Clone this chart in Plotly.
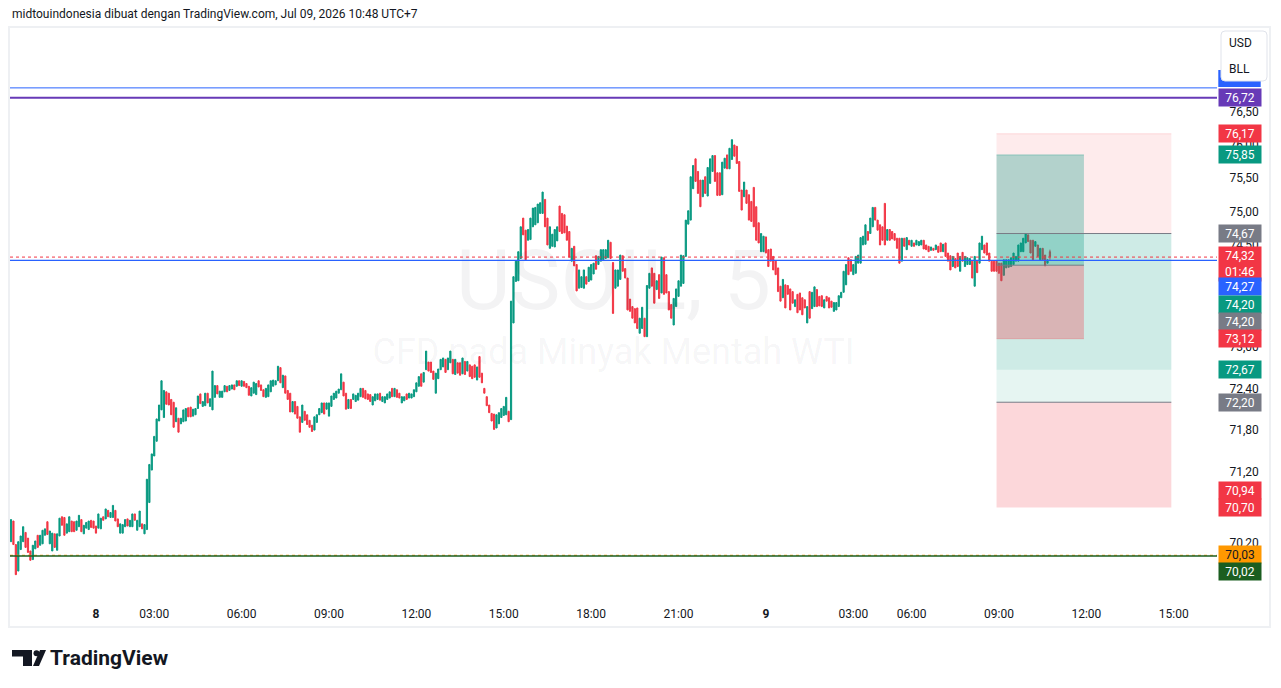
import math
import plotly.graph_objects as go

# ---------------- data (USOIL 5-minute bars, bar index 0..428) ----------------
highs = [
    70.53,70.51,70.18,70.22,70.30,70.43,70.35,70.27,70.09,70.17,
    70.23,70.31,70.31,70.38,70.40,70.50,70.37,70.34,70.33,70.33,
    70.55,70.57,70.56,70.47,70.57,70.51,70.50,70.51,70.59,70.53,
    70.45,70.49,70.51,70.52,70.51,70.44,70.61,70.55,70.57,70.68,
    70.66,70.63,70.73,70.66,70.54,70.47,70.46,70.53,70.54,70.52,
    70.61,70.61,70.52,70.65,70.47,70.46,71.10,71.31,71.46,71.71,
    71.96,72.16,72.51,72.37,72.35,72.33,72.24,72.20,72.12,71.97,
    71.97,72.09,72.11,72.12,72.13,72.10,72.11,72.29,72.32,72.21,
    72.33,72.33,72.25,72.65,72.44,72.44,72.36,72.36,72.44,72.43,
    72.44,72.45,72.45,72.51,72.51,72.51,72.50,72.47,72.43,72.41,
    72.49,72.47,72.51,72.45,72.38,72.40,72.45,72.51,72.52,72.51,
    72.72,72.70,72.59,72.58,72.37,72.33,72.21,72.21,72.14,71.99,
    72.16,72.07,72.02,71.94,71.87,71.99,72.02,72.11,72.19,72.19,
    72.19,72.19,72.29,72.33,72.36,72.39,72.61,72.49,72.33,72.24,
    72.24,72.32,72.30,72.33,72.40,72.40,72.37,72.32,72.31,72.28,
    72.32,72.32,72.33,72.28,72.28,72.32,72.35,72.40,72.40,72.38,
    72.33,72.28,72.28,72.32,72.33,72.32,72.38,72.48,72.57,72.61,
    72.63,72.94,72.78,72.78,72.65,72.62,72.68,72.82,72.84,72.82,
    72.84,72.94,72.82,72.82,72.77,72.77,72.84,72.79,72.79,72.74,
    72.72,72.74,72.71,72.86,72.62,72.40,72.28,72.16,72.04,72.03,
    72.02,72.05,72.11,72.14,72.27,72.07,73.67,74.03,74.26,74.40,
    74.77,74.90,74.72,74.73,74.90,75.05,75.06,75.11,75.13,75.29,
    75.18,74.90,74.77,74.66,74.73,74.77,75.08,74.97,74.95,74.78,
    74.70,74.45,74.48,74.21,74.13,74.03,74.13,74.03,74.17,74.21,
    74.23,74.34,74.33,74.43,74.43,74.43,74.57,74.54,74.24,74.13,
    74.13,74.35,74.34,74.15,74.01,73.70,73.59,73.56,73.57,73.42,
    73.58,73.42,73.90,74.08,74.16,74.08,73.97,74.06,74.32,74.31,
    74.06,73.81,73.62,73.71,73.85,73.97,74.35,74.34,74.87,75.01,
    75.52,75.69,75.79,75.60,75.47,75.47,75.52,75.66,75.79,75.84,
    75.84,75.58,75.58,75.74,75.80,75.85,75.95,76.08,76.00,75.98,
    75.75,75.32,75.44,75.32,75.25,75.15,75.36,75.07,74.83,74.67,
    74.63,74.62,74.43,74.44,74.33,74.26,74.16,73.89,73.99,73.91,
    73.90,73.85,73.81,73.69,73.77,73.79,73.72,73.69,73.59,73.81,
    73.80,73.88,73.84,73.74,73.75,73.69,73.74,73.72,73.67,73.65,
    73.65,73.75,73.80,74.11,74.21,74.31,74.28,74.21,74.33,74.35,
    74.61,74.63,74.80,74.70,74.90,75.06,75.06,74.87,74.80,74.77,
    75.12,74.73,74.73,74.70,74.67,74.60,74.60,74.60,74.60,74.61,
    74.57,74.57,74.53,74.57,74.55,74.57,74.57,74.50,74.48,74.47,
    74.45,74.50,74.48,74.53,74.51,74.53,74.38,74.34,74.33,74.30,
    74.38,74.33,74.39,74.33,74.31,74.30,74.26,74.33,74.26,74.53,
    74.63,74.50,74.53,74.38,74.26,74.26,74.26,74.23,74.23,74.28,
    74.28,74.28,74.31,74.38,74.33,74.50,74.53,74.60,74.67,74.65,
    74.57,74.57,74.55,74.50,74.45,74.45,74.35,74.28,74.43,
]
lows = [
    70.22,70.18,69.76,69.81,70.11,70.22,70.14,70.07,69.96,69.97,
    70.12,70.14,70.17,70.19,70.31,70.32,70.19,70.09,70.14,70.10,
    70.30,70.45,70.31,70.34,70.36,70.36,70.36,70.38,70.43,70.36,
    70.33,70.41,70.39,70.42,70.41,70.34,70.41,70.40,70.52,70.54,
    70.57,70.56,70.56,70.51,70.43,70.34,70.34,70.43,70.44,70.43,
    70.43,70.52,70.38,70.43,70.40,70.33,70.39,70.77,71.23,71.43,
    71.64,71.93,72.09,71.98,72.17,72.16,72.02,71.84,71.92,71.77,
    71.89,71.92,71.93,71.99,71.99,72.00,72.02,72.11,72.18,72.14,
    72.15,72.19,72.14,72.09,72.27,72.32,72.27,72.27,72.35,72.35,
    72.37,72.39,72.38,72.43,72.44,72.43,72.43,72.41,72.30,72.29,
    72.33,72.31,72.42,72.37,72.28,72.27,72.28,72.35,72.43,72.45,
    72.51,72.48,72.41,72.33,72.24,72.06,72.06,72.03,71.97,71.77,
    71.91,71.94,71.88,71.84,71.78,71.80,71.91,72.02,72.05,72.03,
    72.10,72.00,72.14,72.24,72.26,72.33,72.38,72.29,72.10,72.11,
    72.11,72.24,72.21,72.23,72.28,72.27,72.25,72.24,72.21,72.16,
    72.22,72.24,72.23,72.21,72.19,72.24,72.26,72.28,72.28,72.27,
    72.26,72.19,72.22,72.24,72.26,72.26,72.28,72.35,72.43,72.43,
    72.49,72.67,72.65,72.63,72.53,72.33,72.54,72.67,72.71,72.63,
    72.67,72.77,72.61,72.60,72.62,72.59,72.61,72.60,72.65,72.57,
    72.54,72.56,72.52,72.56,72.48,72.33,72.15,72.05,71.93,71.81,
    71.83,71.89,71.98,72.01,72.02,71.92,71.95,73.35,73.96,73.97,
    74.30,74.65,74.28,74.57,74.58,74.77,74.80,74.83,74.97,74.97,
    74.77,74.50,74.45,74.48,74.47,74.56,74.70,74.67,74.68,74.57,
    74.32,74.26,74.19,73.82,73.86,73.87,73.86,73.92,73.96,73.98,
    74.07,74.14,74.21,74.26,74.28,74.30,74.31,74.30,73.49,73.86,
    73.89,73.99,74.11,74.01,73.54,73.52,73.42,73.35,73.27,73.20,
    73.27,73.15,73.15,73.86,73.89,73.64,73.84,73.71,73.79,73.77,
    73.79,73.54,73.42,73.32,73.59,73.74,73.89,73.93,74.33,74.81,
    74.87,75.34,75.45,75.27,75.07,75.22,75.27,75.23,75.42,75.60,
    75.45,75.24,75.24,75.25,75.65,75.64,75.64,75.78,75.83,75.72,
    75.30,75.02,75.22,75.12,74.87,74.85,74.77,74.57,74.53,74.40,
    74.40,74.38,74.18,74.26,74.13,74.06,73.81,73.67,73.72,73.57,
    73.77,73.54,73.64,73.59,73.50,73.54,73.47,73.57,73.35,73.42,
    73.56,73.59,73.59,73.60,73.59,73.57,73.67,73.57,73.58,73.52,
    73.54,73.59,73.72,73.80,73.91,74.06,74.11,74.06,74.08,74.23,
    74.23,74.50,74.51,74.57,74.67,74.77,74.87,74.72,74.50,74.57,
    74.50,74.57,74.57,74.59,74.57,74.45,74.23,74.26,74.48,74.43,
    74.50,74.48,74.48,74.50,74.49,74.50,74.44,74.43,74.40,74.42,
    74.42,74.43,74.39,74.40,74.40,74.33,74.26,74.13,74.18,74.16,
    74.18,74.11,74.26,74.18,74.21,74.21,74.01,73.89,74.09,74.23,
    74.43,74.38,74.35,74.26,74.11,74.11,74.11,74.08,73.97,74.05,
    74.16,74.17,74.18,74.21,74.26,74.26,74.40,74.40,74.53,74.55,
    74.38,74.28,74.48,74.33,74.28,74.28,74.19,74.23,74.28,
]
opens = [
    70.22,70.51,70.18,69.81,70.11,70.22,70.35,70.27,70.09,69.97,
    70.12,70.31,70.17,70.19,70.31,70.50,70.19,70.09,70.33,70.10,
    70.30,70.57,70.56,70.34,70.36,70.51,70.50,70.38,70.43,70.53,
    70.33,70.41,70.39,70.52,70.51,70.44,70.41,70.40,70.57,70.54,
    70.66,70.56,70.56,70.66,70.54,70.34,70.34,70.43,70.54,70.43,
    70.43,70.61,70.38,70.43,70.47,70.33,70.39,70.77,71.23,71.43,
    71.64,71.93,72.09,71.98,72.35,72.33,72.24,72.20,71.92,71.97,
    71.89,71.92,71.93,72.12,72.13,72.00,72.02,72.11,72.32,72.14,
    72.15,72.33,72.14,72.09,72.27,72.44,72.27,72.27,72.35,72.43,
    72.37,72.39,72.45,72.43,72.51,72.43,72.50,72.47,72.43,72.29,
    72.33,72.31,72.51,72.45,72.38,72.27,72.28,72.35,72.43,72.45,
    72.51,72.70,72.41,72.58,72.37,72.33,72.06,72.21,72.14,71.99,
    71.91,72.07,72.02,71.94,71.87,71.80,71.91,72.02,72.05,72.19,
    72.10,72.00,72.14,72.24,72.26,72.33,72.38,72.49,72.33,72.11,
    72.24,72.24,72.21,72.23,72.28,72.40,72.37,72.32,72.31,72.16,
    72.22,72.24,72.33,72.21,72.19,72.24,72.26,72.40,72.28,72.38,
    72.33,72.19,72.22,72.32,72.26,72.26,72.28,72.35,72.43,72.61,
    72.49,72.67,72.78,72.78,72.65,72.33,72.54,72.67,72.71,72.82,
    72.67,72.77,72.82,72.60,72.77,72.77,72.61,72.79,72.65,72.74,
    72.72,72.74,72.52,72.86,72.62,72.40,72.28,72.16,72.04,72.03,
    71.83,71.89,71.98,72.01,72.02,72.07,71.95,73.35,73.96,73.97,
    74.30,74.90,74.72,74.57,74.58,74.77,74.80,74.83,74.97,74.97,
    75.18,74.90,74.45,74.48,74.47,74.56,75.08,74.97,74.95,74.78,
    74.70,74.26,74.48,74.21,73.86,73.87,73.86,74.03,73.96,73.98,
    74.07,74.34,74.21,74.26,74.28,74.30,74.31,74.54,74.24,73.86,
    73.89,73.99,74.34,74.15,74.01,73.70,73.59,73.56,73.57,73.20,
    73.27,73.42,73.15,73.86,74.16,74.08,73.84,74.06,73.79,74.31,
    74.06,73.81,73.62,73.32,73.59,73.74,73.89,73.93,74.33,74.81,
    74.87,75.34,75.79,75.60,75.47,75.22,75.52,75.23,75.42,75.60,
    75.84,75.58,75.58,75.25,75.65,75.85,75.64,75.78,76.00,75.98,
    75.75,75.32,75.22,75.32,75.25,75.15,75.36,75.07,74.83,74.40,
    74.40,74.62,74.43,74.44,74.33,74.26,74.16,73.89,73.72,73.91,
    73.90,73.85,73.81,73.59,73.77,73.79,73.72,73.69,73.35,73.81,
    73.56,73.59,73.84,73.74,73.75,73.57,73.74,73.72,73.67,73.52,
    73.54,73.59,73.72,73.80,73.91,74.31,74.28,74.06,74.08,74.23,
    74.23,74.50,74.51,74.70,74.67,74.77,75.06,74.87,74.80,74.77,
    75.12,74.57,74.73,74.70,74.67,74.60,74.60,74.26,74.60,74.43,
    74.57,74.48,74.53,74.50,74.49,74.50,74.57,74.50,74.48,74.42,
    74.45,74.43,74.48,74.53,74.40,74.53,74.38,74.34,74.18,74.30,
    74.38,74.11,74.39,74.18,74.21,74.21,74.26,73.89,74.26,74.23,
    74.43,74.50,74.53,74.38,74.26,74.26,74.26,74.23,74.23,74.05,
    74.16,74.17,74.18,74.21,74.26,74.26,74.40,74.40,74.53,74.65,
    74.57,74.57,74.48,74.50,74.28,74.45,74.35,74.23,74.40,
]
closes = [
    70.53,70.18,69.76,70.22,70.30,70.43,70.14,70.07,69.96,70.17,
    70.23,70.14,70.31,70.38,70.40,70.32,70.37,70.34,70.14,70.33,
    70.55,70.45,70.31,70.47,70.57,70.36,70.36,70.51,70.59,70.36,
    70.45,70.49,70.51,70.42,70.41,70.34,70.61,70.55,70.52,70.68,
    70.57,70.63,70.73,70.51,70.43,70.47,70.46,70.53,70.44,70.52,
    70.61,70.52,70.52,70.65,70.40,70.46,71.10,71.31,71.46,71.71,
    71.96,72.16,72.51,72.37,72.17,72.16,72.02,71.84,72.12,71.77,
    71.97,72.09,72.11,71.99,71.99,72.10,72.11,72.29,72.18,72.21,
    72.33,72.19,72.25,72.65,72.44,72.32,72.36,72.36,72.44,72.35,
    72.44,72.45,72.38,72.51,72.44,72.51,72.43,72.41,72.30,72.41,
    72.49,72.47,72.42,72.37,72.28,72.40,72.45,72.51,72.52,72.51,
    72.72,72.48,72.59,72.33,72.24,72.06,72.21,72.03,71.97,71.77,
    72.16,71.94,71.88,71.84,71.78,71.99,72.02,72.11,72.19,72.03,
    72.19,72.19,72.29,72.33,72.36,72.39,72.61,72.29,72.10,72.24,
    72.11,72.32,72.30,72.33,72.40,72.27,72.25,72.24,72.21,72.28,
    72.32,72.32,72.23,72.28,72.28,72.32,72.35,72.28,72.40,72.27,
    72.26,72.28,72.28,72.24,72.33,72.32,72.38,72.48,72.57,72.43,
    72.63,72.94,72.65,72.63,72.53,72.62,72.68,72.82,72.84,72.63,
    72.84,72.94,72.61,72.82,72.62,72.59,72.84,72.60,72.79,72.57,
    72.54,72.56,72.71,72.56,72.48,72.33,72.15,72.05,71.93,71.81,
    72.02,72.05,72.11,72.14,72.27,71.92,73.67,74.03,74.26,74.40,
    74.77,74.65,74.28,74.73,74.90,75.05,75.06,75.11,75.13,75.29,
    74.77,74.50,74.77,74.66,74.73,74.77,74.70,74.67,74.68,74.57,
    74.32,74.45,74.19,73.82,74.13,74.03,74.13,73.92,74.17,74.21,
    74.23,74.14,74.33,74.43,74.43,74.43,74.57,74.30,73.49,74.13,
    74.13,74.35,74.11,74.01,73.54,73.52,73.42,73.35,73.27,73.42,
    73.58,73.15,73.90,74.08,73.89,73.64,73.97,73.71,74.32,73.77,
    73.79,73.54,73.42,73.71,73.85,73.97,74.35,74.34,74.87,75.01,
    75.52,75.69,75.45,75.27,75.07,75.47,75.27,75.66,75.79,75.84,
    75.45,75.24,75.24,75.74,75.80,75.64,75.95,76.08,75.83,75.72,
    75.30,75.02,75.44,75.12,74.87,74.85,74.77,74.57,74.53,74.67,
    74.63,74.38,74.18,74.26,74.13,74.06,73.81,73.67,73.99,73.57,
    73.77,73.54,73.64,73.69,73.50,73.54,73.47,73.57,73.59,73.42,
    73.80,73.88,73.59,73.60,73.59,73.69,73.67,73.57,73.58,73.65,
    73.65,73.75,73.80,74.11,74.21,74.06,74.11,74.21,74.33,74.35,
    74.61,74.63,74.80,74.57,74.90,75.06,74.87,74.72,74.50,74.57,
    74.50,74.73,74.57,74.59,74.57,74.45,74.23,74.60,74.48,74.61,
    74.50,74.57,74.48,74.57,74.55,74.57,74.44,74.43,74.40,74.47,
    74.42,74.50,74.39,74.40,74.51,74.33,74.26,74.13,74.33,74.16,
    74.18,74.33,74.26,74.33,74.31,74.30,74.01,74.33,74.09,74.53,
    74.63,74.38,74.35,74.26,74.11,74.11,74.11,74.08,73.97,74.28,
    74.28,74.28,74.31,74.38,74.33,74.50,74.53,74.60,74.67,74.55,
    74.38,74.28,74.55,74.33,74.45,74.28,74.19,74.28,74.32,
]
assert len(highs) == len(lows) == len(opens) == len(closes)
bars = list(range(len(closes)))

# time axis (bar index of each labelled time)
time_tick_bars = [35, 59, 95, 131, 167, 203, 239, 275, 311, 347, 371, 407, 443, 479]
time_tick_labels = ["<b>8</b>", "03:00", "06:00", "09:00", "12:00", "15:00", "18:00",
                    "21:00", "<b>9</b>", "03:00", "06:00", "09:00", "12:00", "15:00"]

# price axis ticks (log scale)
price_ticks = [70.20, 71.20, 71.80, 72.40, 73.00, 74.50, 75.00, 75.50, 76.00, 76.50]

# horizontal levels
level_blue_top = 76.87
level_purple = 76.72
last_price = 74.32
level_blue_mid = 74.27
level_orange = 70.03
level_green = 70.02
countdown = "01:46"

# position tools (prices)
short_entry, short_stop, short_target = 74.67, 76.17, 72.67
long1_entry, long1_target, long1_stop = 74.20, 75.85, 73.12
long2_entry, long2_target, long2_stop = 72.20, 72.67, 70.70
extra_level = 70.94
tool_start_bar, tool_short_end_bar, tool_wide_end_bar = 406, 442, 478

# ---------------- styling ----------------
GREEN = "#089981"
RED = "#f23645"
BLUE = "#2962ff"
PURPLE = "#673ab7"
GRAY = "#787b86"
ORANGE = "#ff9800"
DKGREEN = "#1b5e20"
TXT = "#131722"
FONT = "Roboto"

W, H = 1281, 688
PL, PR, PT, PB = 10, 1217, 29, 598  # plot area in pixels
Y_TOP_PRICE, Y_BOT_PRICE = 77.778, 69.436
X_RANGE = [-0.412, 496.82]


def px(x):
    return (x - PL) / (PR - PL)


def py(y):
    return (PB - y) / (PB - PT)


def L(p):
    return math.log10(p)


def fmt(p):
    return f"{p:.2f}".replace(".", ",")


fig = go.Figure()

# watermark (behind candles)
fig.add_trace(go.Scatter(x=[248.2], y=[73.86], mode="text", text=["USOIL, 5"],
                         textfont=dict(family=FONT, size=84, color="rgba(19,23,34,0.05)"),
                         hoverinfo="skip", showlegend=False))
fig.add_trace(go.Scatter(x=[248.2], y=[72.88], mode="text", text=["CFD pada Minyak Mentah WTI"],
                         textfont=dict(family=FONT, size=36, color="rgba(19,23,34,0.05)"),
                         hoverinfo="skip", showlegend=False))

fig.add_trace(go.Candlestick(
    x=bars, open=opens, high=highs, low=lows, close=closes,
    increasing=dict(line=dict(color=GREEN, width=1), fillcolor=GREEN),
    decreasing=dict(line=dict(color=RED, width=1), fillcolor=RED),
    whiskerwidth=0, hoverinfo="skip", showlegend=False))


def zone(x0, x1, p0, p1, color):
    fig.add_trace(go.Scatter(x=[x0, x1, x1, x0, x0], y=[p0, p0, p1, p1, p0], mode="lines",
                             fill="toself", fillcolor=color, line=dict(width=0, color=color),
                             hoverinfo="skip", showlegend=False))


def seg(x0, x1, p, color, width=1, dash="solid"):
    fig.add_trace(go.Scatter(x=[x0, x1], y=[p, p], mode="lines",
                             line=dict(color=color, width=width, dash=dash),
                             hoverinfo="skip", showlegend=False))


# position tools (drawn over the candles)
a, b, c = tool_start_bar, tool_short_end_bar, tool_wide_end_bar
zone(a, c, short_entry, short_stop, "rgba(242,54,69,0.10)")
zone(a, c, short_target, short_entry, "rgba(8,153,129,0.20)")
zone(a, c, long2_entry, long2_target, "rgba(8,153,129,0.10)")
zone(a, c, long2_stop, long2_entry, "rgba(242,54,69,0.20)")
zone(a, b, long1_entry, long1_target, "rgba(8,153,129,0.30)")
zone(a, b, long1_stop, long1_entry, "rgba(242,54,69,0.30)")
seg(a, c, short_stop, "rgba(242,54,69,0.15)")
seg(a, b, long1_target, "rgba(8,153,129,0.35)")
seg(a, b, long1_stop, "rgba(242,54,69,0.25)")
seg(a, c, short_entry, GRAY)
seg(a, b, long1_entry, GRAY)
seg(a, c, long2_entry, GRAY)

# horizontal lines across the pane
xl, xr = X_RANGE
seg(xl, xr, level_blue_top, BLUE, 1)
seg(xl, xr, level_purple, PURPLE, 2)
seg(xl, xr, last_price, RED, 1, "dot")
seg(xl, xr, level_blue_mid, BLUE, 1.3)
seg(xl, xr, level_orange, ORANGE, 1, "dot")
seg(xl, xr, level_green, DKGREEN, 1.5)

shapes = []
# chart frame
shapes.append(dict(type="rect", xref="paper", yref="paper", x0=px(9), x1=px(1270), y0=py(627), y1=py(27),
                   line=dict(color="#eef0f3", width=2), fillcolor="rgba(0,0,0,0)", layer="above"))

# blue level label (mostly hidden under currency box)
shapes.append(dict(type="rect", xref="paper", yref="paper", x0=px(1218.3), x1=px(1260.7),
                   y0=py(87), y1=py(70), fillcolor=BLUE, line=dict(width=0), layer="above"))
# currency / unit box
bx0, bx1, by0, by1, r = 1221, 1267, 31, 81, 4
path = (f"M {px(bx0 + r)},{py(by0)} L {px(bx1 - r)},{py(by0)} Q {px(bx1)},{py(by0)} {px(bx1)},{py(by0 + r)} "
        f"L {px(bx1)},{py(by1 - r)} Q {px(bx1)},{py(by1)} {px(bx1 - r)},{py(by1)} "
        f"L {px(bx0 + r)},{py(by1)} Q {px(bx0)},{py(by1)} {px(bx0)},{py(by1 - r)} "
        f"L {px(bx0)},{py(by0 + r)} Q {px(bx0)},{py(by0)} {px(bx0 + r)},{py(by0)} Z")
shapes.append(dict(type="path", xref="paper", yref="paper", path=path, fillcolor="white",
                   line=dict(color="#e0e3eb", width=1), layer="above"))

# TradingView logo glyph
shapes.append(dict(type="path", xref="paper", yref="paper",
                   path=f"M {px(12)},{py(650)} L {px(32)},{py(650)} L {px(32)},{py(666)} L {px(23)},{py(666)} "
                        f"L {px(23)},{py(656.5)} L {px(12)},{py(656.5)} Z",
                   fillcolor=TXT, line=dict(width=0)))
shapes.append(dict(type="circle", xref="paper", yref="paper", x0=px(33.5), x1=px(39.5), y0=py(656.3), y1=py(650.3),
                   fillcolor=TXT, line=dict(width=0)))
shapes.append(dict(type="path", xref="paper", yref="paper",
                   path=f"M {px(40)},{py(650)} L {px(46)},{py(650)} L {px(39)},{py(666)} L {px(33)},{py(666)} Z",
                   fillcolor=TXT, line=dict(width=0)))

annotations = []

# header
annotations.append(dict(xref="paper", yref="paper", x=px(10), y=py(14), xanchor="left", yanchor="middle",
                        text="midtouindonesia dibuat dengan TradingView.com, Jul 09, 2026 10:48 UTC+7",
                        showarrow=False, font=dict(family=FONT, size=12, color=TXT)))
# currency box text
annotations.append(dict(xref="paper", yref="paper", x=px(1240), y=py(43), xanchor="center", yanchor="middle",
                        text="USD", showarrow=False, font=dict(family=FONT, size=12, color=TXT)))
annotations.append(dict(xref="paper", yref="paper", x=px(1239), y=py(69), xanchor="center", yanchor="middle",
                        text="BLL", showarrow=False, font=dict(family=FONT, size=12, color=TXT)))
# wordmark
annotations.append(dict(xref="paper", yref="paper", x=px(48), y=py(658), xanchor="left", yanchor="middle",
                        text="<b>TradingView</b>", showarrow=False, font=dict(family=FONT, size=21, color=TXT)))

# price-axis labels: (price, text, background, text colour, shift in px, height)
price_labels = [
    (level_purple, fmt(level_purple), PURPLE, "white", 0, 17),
    (short_stop, fmt(short_stop), RED, "white", 0, 17),
    (long1_target, fmt(long1_target), GREEN, "white", 0, 17),
    (short_entry, fmt(short_entry), GRAY, "white", 0, 17),
    (last_price, fmt(last_price) + "<br>" + countdown, RED, "white", -7, 34),
    (level_blue_mid, fmt(level_blue_mid), BLUE, "white", -26.5, 17),
    (long1_entry, fmt(long1_entry), GREEN, "white", -39, 17),
    (long1_entry, fmt(long1_entry), GRAY, "white", -56, 17),
    (long1_stop, fmt(long1_stop), RED, "white", 0, 17),
    (short_target, fmt(short_target), GREEN, "white", 0, 17),
    (long2_entry, fmt(long2_entry), GRAY, "white", 0, 17),
    (extra_level, fmt(extra_level), RED, "white", 0, 17),
    (long2_stop, fmt(long2_stop), RED, "white", 0, 17),
    (level_orange, fmt(level_orange), ORANGE, TXT, 1, 17),
    (level_green, fmt(level_green), DKGREEN, "white", -16, 17),
]
for p, t, bg, fg, sh, hgt in price_labels:
    annotations.append(dict(xref="paper", yref="y", x=px(1218.3), y=L(p), xanchor="left", yanchor="middle",
                            yshift=sh, text=t, showarrow=False, bgcolor=bg, width=42, height=hgt,
                            borderpad=0, align="center", font=dict(family=FONT, size=12, color=fg)))

fig.update_layout(
    width=W, height=H,
    margin=dict(l=PL, r=W - PR, t=PT, b=H - PB),
    paper_bgcolor="white", plot_bgcolor="white",
    showlegend=False,
    shapes=shapes, annotations=annotations,
    xaxis=dict(range=X_RANGE, showgrid=False, zeroline=False, showline=False,
               tickmode="array", tickvals=time_tick_bars, ticktext=time_tick_labels,
               ticks="outside", ticklen=5, tickcolor="rgba(0,0,0,0)",
               tickfont=dict(family=FONT, size=12, color=TXT),
               rangeslider=dict(visible=False), fixedrange=True),
    yaxis=dict(type="log", side="right", range=[L(Y_BOT_PRICE), L(Y_TOP_PRICE)],
               showgrid=False, zeroline=False, showline=False,
               tickmode="array", tickvals=price_ticks, ticktext=[fmt(v) for v in price_ticks],
               ticks="outside", ticklen=9, tickcolor="rgba(0,0,0,0)",
               tickfont=dict(family=FONT, size=12, color=TXT), fixedrange=True),
)

fig.write_html("out.html")
